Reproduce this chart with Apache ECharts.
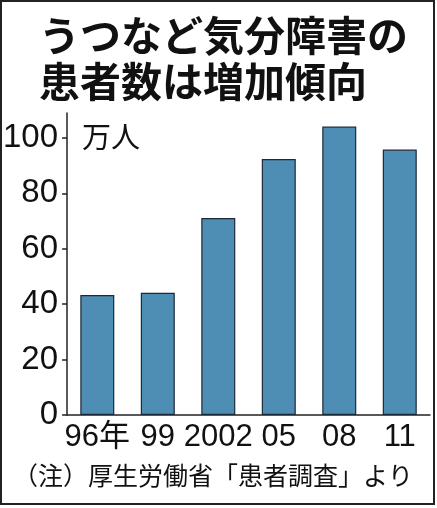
<!DOCTYPE html>
<html>
<head>
    <meta charset="utf-8">
    <title>ECharts</title>
    <script src="https://cdn.jsdelivr.net/npm/echarts@6/dist/echarts.min.js"></script>
    <style>
        html, body { margin: 0; padding: 0; background: #fff; }
    </style>
</head>
<body>
    <div id="main" style="width: 437px;height:508px;"></div>

    <script type="text/javascript">
    // データ（万人）
    var years = ['96年', '99', '2002', '05', '08', '11'];
    var patients = [43.3, 44.1, 71.1, 92.4, 104.1, 95.8];
    var yTicks = [0, 20, 40, 60, 80, 100];

    var titleText = 'うつなど気分障害の\n患者数は増加傾向';
    var unitText = '万人';
    var noteText = '（注）厚生労働省「患者調査」より';

    var myChart = echarts.init(document.getElementById('main'));

    var option = {
        backgroundColor: '#fff',
        animation: false,
        title: {
            text: titleText,
            left: 34,
            top: 7,
            textStyle: {
                fontFamily: 'Noto Sans CJK JP',
                fontWeight: 'bold',
                fontSize: 41,
                lineHeight: 46,
                color: '#111'
            }
        },
        grid: {
            left: 67,
            right: 7,
            top: 113,
            bottom: 93
        },
        xAxis: {
            type: 'category',
            data: years,
            axisLine: { lineStyle: { color: '#222', width: 1.5 } },
            axisTick: { show: false },
            axisLabel: {
                interval: 0,
                margin: 7,
                color: '#111',
                fontSize: 31,
                fontFamily: 'Liberation Sans, Noto Sans CJK JP'
            }
        },
        yAxis: {
            type: 'value',
            min: 0,
            max: 109,
            interval: 20,
            splitLine: { show: false },
            axisLine: { show: true, lineStyle: { color: '#222', width: 1.5 } },
            axisTick: {
                show: true,
                length: 5,
                customValues: yTicks,
                lineStyle: { color: '#222', width: 1.5 }
            },
            axisLabel: {
                margin: 9,
                customValues: yTicks,
                color: '#111',
                fontSize: 33,
                fontFamily: 'Liberation Sans Narrow, Liberation Sans'
            }
        },
        series: [
            {
                type: 'bar',
                data: patients,
                barWidth: 34,
                itemStyle: {
                    color: '#4e8db4',
                    borderColor: '#1d2a36',
                    borderWidth: 1.2
                }
            }
        ],
        graphic: [
            {
                type: 'text',
                left: 82,
                top: 122,
                style: {
                    text: unitText,
                    font: '29px "Noto Sans CJK JP"',
                    fill: '#111'
                }
            },
            {
                type: 'text',
                left: 13,
                top: 463,
                style: {
                    text: noteText,
                    font: '25px "Noto Sans CJK JP"',
                    fill: '#111'
                }
            },
            {
                type: 'rect',
                shape: { x: 1, y: 1, width: 433, height: 503 },
                style: { fill: 'none', stroke: '#222', lineWidth: 2 },
                silent: true
            }
        ]
    };

    myChart.setOption(option);
    </script>
</body>
</html>
